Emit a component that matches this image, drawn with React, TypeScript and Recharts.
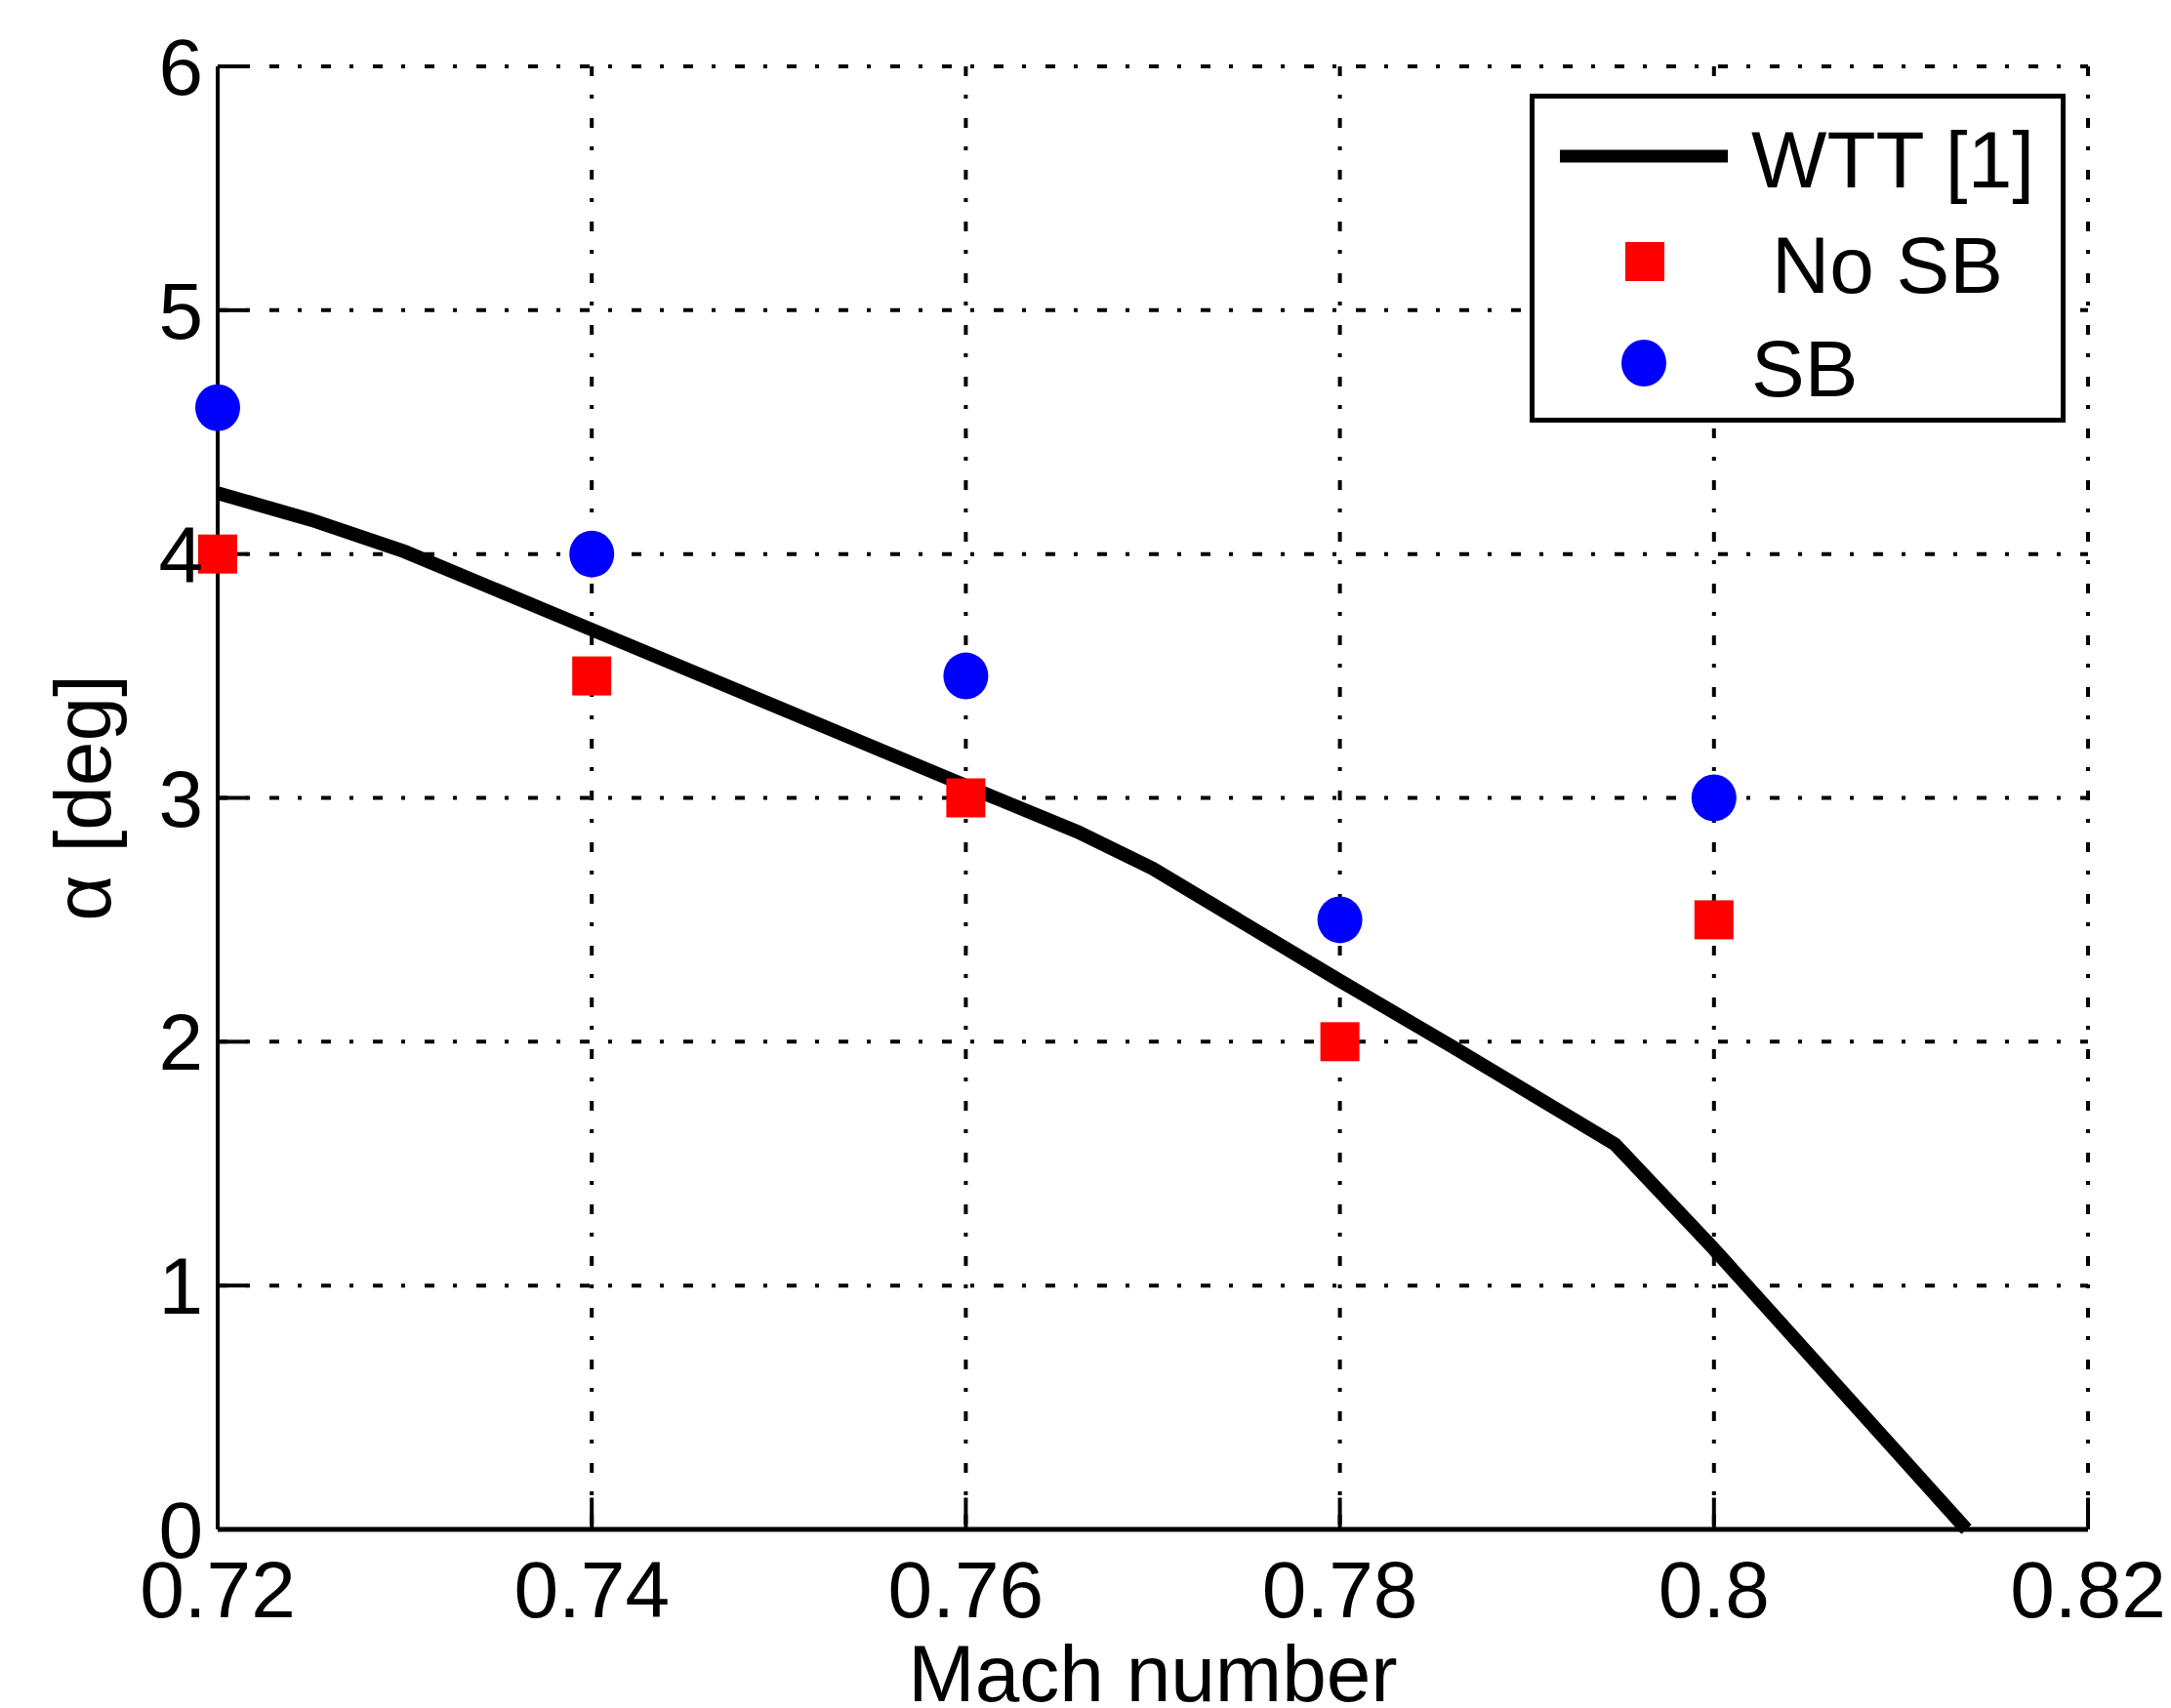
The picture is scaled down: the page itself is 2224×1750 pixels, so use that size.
import {
  ComposedChart,
  Line,
  Scatter,
  XAxis,
  YAxis,
  CartesianGrid,
  ReferenceLine,
  Legend,
} from 'recharts';

// axes
const MACH_TICKS = [0.72, 0.74, 0.76, 0.78, 0.8, 0.82];
const ALPHA_TICKS = [0, 1, 2, 3, 4, 5, 6];

// wind tunnel test curve
const WTT_MACH = [0.72, 0.725, 0.73, 0.74, 0.75, 0.76, 0.766, 0.77, 0.78, 0.786, 0.7947, 0.8, 0.8135];
const WTT_ALPHA = [4.25, 4.14, 4.01, 3.69, 3.37, 3.05, 2.86, 2.71, 2.25, 1.98, 1.58, 1.15, 0];

// computed cases
const CASE_MACH = [0.72, 0.74, 0.76, 0.78, 0.8];
const NO_SB_ALPHA = [4, 3.5, 3, 2, 2.5];
const SB_ALPHA = [4.6, 4, 3.5, 2.5, 3];

const SERIES_NAMES = ['WTT [1]', 'No SB', 'SB'];

const FONT = '"Liberation Sans", Arial, sans-serif';
const FS = 82;
const RED = '#ff0000';
const BLUE = '#0000ff';

const wttData = WTT_MACH.map((x, i) => ({ x, y: WTT_ALPHA[i] }));
const noSbData = CASE_MACH.map((x, i) => ({ x, y: NO_SB_ALPHA[i] }));
const sbData = CASE_MACH.map((x, i) => ({ x, y: SB_ALPHA[i] }));

// inward tick lengths in data units (~31px)
const X_TICK_LEN = 0.13;
const Y_TICK_LEN = 0.0016;

function XTick({ x, y, payload }: any) {
  return (
    <text x={x} y={y + 90} textAnchor="middle" fontSize={FS} fontFamily={FONT} fill="#000">
      {String(payload.value)}
    </text>
  );
}

function YTick({ x, y, payload }: any) {
  return (
    <text x={x - 15} y={y + 29} textAnchor="end" fontSize={FS} fontFamily={FONT} fill="#000">
      {String(payload.value)}
    </text>
  );
}

function XLabel({ viewBox }: any) {
  return (
    <text
      x={viewBox.x + viewBox.width / 2}
      y={viewBox.y + 176}
      textAnchor="middle"
      fontSize={FS}
      fontFamily={FONT}
      fill="#000"
    >
      Mach number
    </text>
  );
}

function YLabel({ viewBox }: any) {
  const cx = viewBox.x + 113;
  const cy = viewBox.y + viewBox.height / 2;
  return (
    <text
      x={cx}
      y={cy}
      transform={`rotate(-90 ${cx} ${cy})`}
      textAnchor="middle"
      fontSize={FS}
      fontFamily={FONT}
      fill="#000"
    >
      α [deg]
    </text>
  );
}

const Square = (p: any) => (
  <rect x={p.cx - 20} y={p.cy - 20} width={40} height={40} fill={RED} />
);

const Dot = (p: any) => <ellipse cx={p.cx} cy={p.cy} rx={23} ry={24} fill={BLUE} />;

function LegendBox() {
  const txt = { fontSize: FS, fontFamily: FONT, fill: '#000' };
  return (
    <svg width={549} height={337} style={{ display: 'block' }}>
      <rect x={2.5} y={2.5} width={544} height={332} fill="#fff" stroke="#000" strokeWidth={5} />
      <line x1={31} y1={64} x2={203} y2={64} stroke="#000" strokeWidth={13} />
      <text x={227} y={96} {...txt}>{SERIES_NAMES[0]}</text>
      <rect x={98} y={152} width={40} height={40} fill={RED} />
      <text x={248} y={204} {...txt}>{SERIES_NAMES[1]}</text>
      <ellipse cx={117} cy={276} rx={23} ry={24} fill={BLUE} />
      <text x={227} y={310} {...txt}>{SERIES_NAMES[2]}</text>
    </svg>
  );
}

export default function App() {
  return (
    <div style={{ position: 'absolute', left: 0, top: 0, background: '#fff' }}>
      <ComposedChart width={2224} height={1750} margin={{ top: 68, right: 85, bottom: 0, left: 0 }}>
        <CartesianGrid stroke="#000" strokeWidth={4} strokeDasharray="10 19 4 20" />
        <XAxis
          type="number"
          dataKey="x"
          domain={[0.72, 0.82]}
          ticks={MACH_TICKS}
          height={183}
          tickSize={0}
          tickMargin={0}
          tickLine={false}
          axisLine={{ stroke: '#000', strokeWidth: 5 }}
          tick={<XTick />}
          label={<XLabel />}
        />
        <YAxis
          type="number"
          dataKey="y"
          domain={[0, 6]}
          ticks={ALPHA_TICKS}
          width={223}
          tickSize={0}
          tickMargin={0}
          tickLine={false}
          axisLine={{ stroke: '#000', strokeWidth: 4 }}
          tick={<YTick />}
          label={<YLabel />}
        />
        {MACH_TICKS.map((t) => (
          <ReferenceLine
            key={`xt${t}`}
            segment={[{ x: t, y: 0 }, { x: t, y: X_TICK_LEN }]}
            stroke="#000"
            strokeWidth={4}
          />
        ))}
        {ALPHA_TICKS.map((t) => (
          <ReferenceLine
            key={`yt${t}`}
            segment={[{ x: 0.72, y: t }, { x: 0.72 + Y_TICK_LEN, y: t }]}
            stroke="#000"
            strokeWidth={4}
          />
        ))}
        <Line
          data={wttData}
          dataKey="y"
          name={SERIES_NAMES[0]}
          type="linear"
          stroke="#000"
          strokeWidth={14}
          dot={false}
          activeDot={false}
          isAnimationActive={false}
        />
        <Scatter
          data={noSbData}
          dataKey="y"
          name={SERIES_NAMES[1]}
          fill={RED}
          shape={Square}
          isAnimationActive={false}
        />
        <Scatter
          data={sbData}
          dataKey="y"
          name={SERIES_NAMES[2]}
          fill={BLUE}
          shape={Dot}
          isAnimationActive={false}
        />
        <Legend
          layout="vertical"
          align="center"
          verticalAlign="middle"
          content={() => <LegendBox />}
          wrapperStyle={{ left: 1567, top: 96, width: 549, height: 337, lineHeight: 0 }}
        />
      </ComposedChart>
    </div>
  );
}
